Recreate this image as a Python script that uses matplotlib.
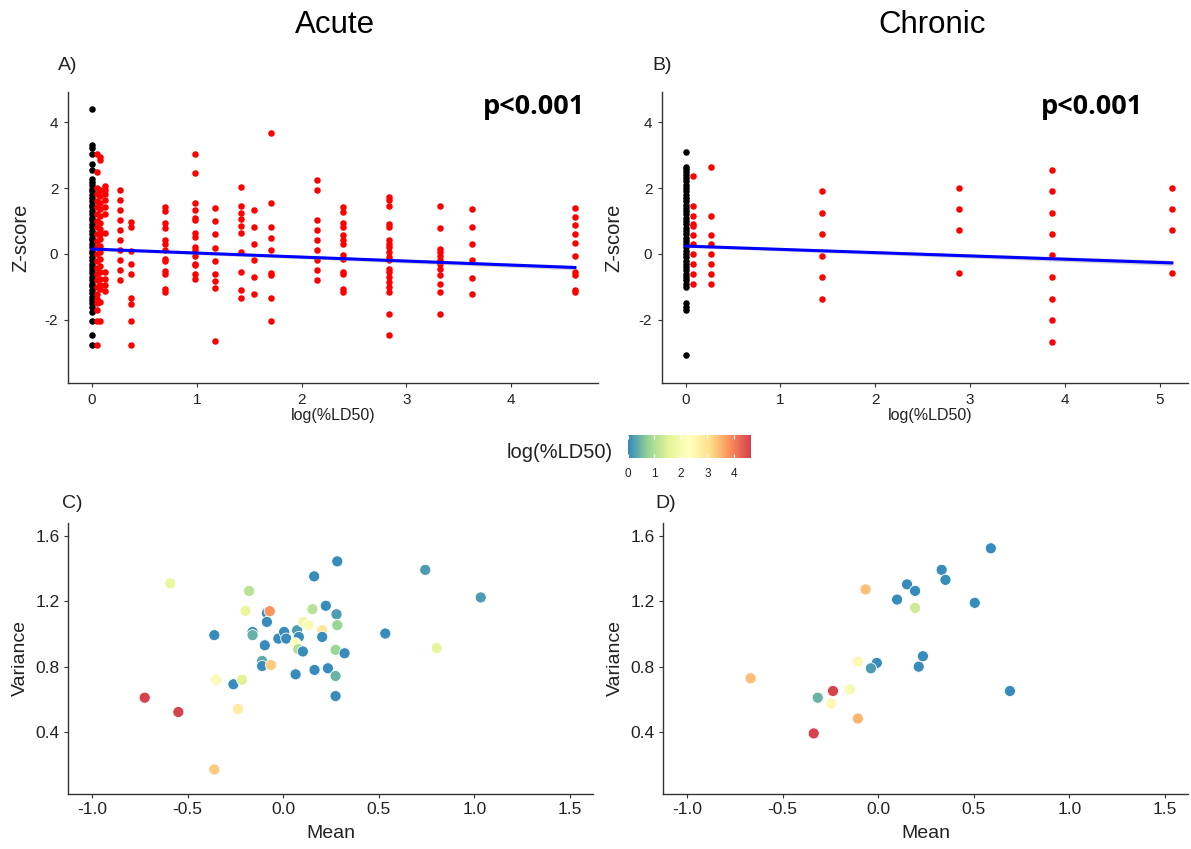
import matplotlib
matplotlib.use("Agg")
import matplotlib.pyplot as plt
from matplotlib.colors import LinearSegmentedColormap, Normalize
import matplotlib.cm as cm
import numpy as np

plt.rcParams["font.family"] = ["Liberation Sans", "DejaVu Sans"]
plt.rcParams["axes.unicode_minus"] = False

# ── Data: top panels (Z-score vs log(%LD50)) ─────────────────────────────────

# Acute: control group (x = 0, black)
acute_ctrl = [4.38, 3.29, 3.22, 3.02, 2.72, 2.54, 2.28, 2.18, 2.08, 1.98, 1.9, 1.78,
              1.7, 1.6, 1.5, 1.42, 1.3, 1.22, 1.1, 1.02, 0.9, 0.82, 0.7, 0.62, 0.5,
              0.42, 0.3, 0.22, 0.1, 0.02, -0.1, -0.18, -0.3, -0.38, -0.5, -0.58,
              -0.7, -0.78, -0.9, -0.98, -1.1, -1.18, -1.3, -1.38, -1.5, -1.6, -1.76,
              -2.04, -2.46, -2.77]

# Acute: dosed groups (red)
acute_dose = [0.045, 0.075, 0.123, 0.27, 0.37, 0.695, 0.985, 1.175, 1.42, 1.55,
              1.71, 2.15, 2.40, 2.83, 3.32, 3.63, 4.61]
acute_z = [
    [3.04, 2.48, 2.0, 1.82, 1.6, 1.41, 1.2, 1.0, 0.82, 0.6, 0.4, 0.21, 0.0, -0.2,
     -0.41, -0.6, -0.8, -1.0, -1.2, -1.35, -1.5, -1.7, -2.03, -2.77],
    [2.95, 2.84, 1.95, 1.75, 1.55, 1.35, 1.15, 0.95, 0.75, 0.62, 0.45, 0.25, 0.05,
     -0.15, -0.35, -0.55, -0.75, -0.95, -1.05, -1.45, -2.03],
    [2.06, 1.93, 1.83, 1.63, 1.42, 1.22, 0.64, -0.55, -0.75, -0.95, -1.13],
    [1.93, 1.63, 1.32, 1.02, 0.72, 0.42, 0.11, -0.19, -0.49, -0.80],
    [0.97, 0.82, 0.08, -0.29, -0.60, -1.32, -1.53, -2.04, -2.77],
    [1.42, 1.30, 0.94, 0.80, 0.43, 0.29, 0.13, -0.14, -0.21, -0.52, -0.62, -1.05, -1.15],
    [3.02, 2.46, 1.55, 1.32, 1.09, 1.04, 0.64, 0.52, 0.21, 0.13, -0.06, -0.29,
     -0.34, -0.60, -0.75],
    [1.40, 1.0, 0.60, 0.19, -0.21, -0.60, -0.82, -1.02, -2.65],
    [2.03, 1.44, 1.24, 1.07, 0.84, 0.65, 0.06, -0.55, -1.10, -1.33],
    [1.34, 0.82, 0.31, -0.19, -0.70, -1.22],
    [3.67, 1.55, 0.82, 0.48, 0.11, -0.58, -0.65, -1.32, -2.04],
    [2.23, 1.93, 1.02, 0.72, 0.41, 0.11, -0.19, -0.49, -0.80],
    [1.42, 1.27, 0.94, 0.82, 0.57, 0.41, 0.29, -0.04, -0.14, -0.55, -0.62, -1.05, -1.15],
    [1.73, 1.63, 1.44, 0.92, 0.82, 0.43, 0.31, 0.21, 0.06, -0.09, -0.19, -0.44,
     -0.55, -0.70, -0.85, -1.0, -1.15, -1.81, -2.46],
    [1.44, 0.80, 0.16, 0.06, -0.07, -0.19, -0.29, -0.44, -0.65, -0.90, -1.15, -1.81],
    [1.35, 0.83, 0.31, -0.19, -0.72, -1.20],
    [1.40, 1.12, 0.87, 0.62, 0.33, -0.06, -0.55, -0.65, -1.08, -1.15],
]
acute_fit_x = [0.0, 4.61]
acute_fit_y = [0.15, -0.41]
acute_fit_se = [0.04, 0.07]

# Chronic: control group (x = 0, black)
chronic_ctrl = [3.1, 2.65, 2.58, 2.5, 2.4, 2.3, 2.2, 2.1, 2.0, 1.9, 1.8, 1.7, 1.6,
                1.5, 1.4, 1.3, 1.2, 1.1, 1.0, 0.9, 0.8, 0.7, 0.6, 0.5, 0.4, 0.3,
                0.2, 0.1, 0.0, -0.1, -0.2, -0.3, -0.4, -0.5, -0.6, -0.7, -0.8,
                -0.9, -1.0, -1.5, -1.6, -1.7, -3.05]

# Chronic: dosed groups (red)
chronic_dose = [0.077, 0.27, 1.44, 2.88, 3.87, 5.13]
chronic_z = [
    [2.35, 1.45, 1.16, 0.9, 0.85, 0.58, 0.29, 0.0, -0.29, -0.60, -0.90],
    [2.64, 1.16, 0.58, 0.29, 0.0, -0.29, -0.60, -0.90],
    [1.90, 1.24, 0.60, -0.06, -0.71, -1.36],
    [2.0, 1.35, 0.72, -0.58],
    [2.56, 1.91, 1.25, 0.60, -0.04, -0.71, -1.36, -2.01, -2.67],
    [2.0, 1.35, 0.72, -0.58],
]
chronic_fit_x = [0.0, 5.13]
chronic_fit_y = [0.24, -0.27]
chronic_fit_se = [0.04, 0.08]

# ── Data: bottom panels (Variance vs Mean, coloured by log(%LD50)) ───────────

acute_mean = [-0.59, -0.178, -0.197, -0.085, -0.07, -0.085, -0.36, -0.16, -0.16,
              -0.096, -0.11, -0.11, -0.064, -0.025, 0.005, 0.016, 0.073, 0.082,
              0.065, 0.079, 0.103, 0.105, 0.133, 0.065, 0.162, 0.153, 0.204, 0.204,
              0.223, 0.283, 0.279, 0.283, 0.274, 0.321, 0.234, 0.164, 0.274, 0.274,
              -0.26, -0.35, -0.215, -0.236, -0.724, -0.548, -0.36, 0.534, 0.743,
              1.033, 0.803]
acute_var = [1.31, 1.264, 1.142, 1.128, 1.14, 1.074, 0.993, 1.013, 0.993, 0.931,
             0.835, 0.804, 0.81, 0.972, 1.013, 0.972, 1.023, 0.982, 0.943, 0.907,
             0.893, 1.074, 1.054, 0.753, 1.353, 1.152, 1.023, 0.982, 1.173, 1.445,
             1.121, 1.054, 0.903, 0.882, 0.79, 0.78, 0.743, 0.62, 0.692, 0.72, 0.72,
             0.54, 0.61, 0.522, 0.17, 1.003, 1.393, 1.224, 0.913]
acute_ld = [1.7, 1.1, 1.7, 0.05, 3.8, 0.05, 0.05, 0.1, 0.4, 0.05, 0.35, 0.05, 3.3,
            0.05, 0.05, 0.05, 0.2, 0.05, 2.2, 1.0, 0.05, 1.9, 2.1, 0.05, 0.05, 1.1,
            2.9, 0.05, 0.05, 0.05, 0.2, 0.8, 0.8, 0.05, 0.05, 0.05, 0.45, 0.05,
            0.05, 2.1, 1.5, 2.8, 4.6, 4.6, 3.3, 0.05, 0.2, 0.2, 1.6]

chronic_mean = [0.589, 0.332, 0.352, 0.151, 0.193, 0.099, 0.505, -0.066, 0.193,
                0.234, 0.212, -0.007, -0.038, -0.106, -0.148, -0.236, -0.316,
                -0.245, -0.106, -0.337, 0.689, -0.667]
chronic_var = [1.525, 1.393, 1.332, 1.304, 1.264, 1.211, 1.191, 1.273, 1.16, 0.864,
               0.80, 0.823, 0.79, 0.831, 0.661, 0.651, 0.61, 0.574, 0.482, 0.391,
               0.651, 0.729]
chronic_ld = [0.05, 0.05, 0.05, 0.05, 0.05, 0.05, 0.05, 3.4, 1.3, 0.05, 0.05, 0.05,
              0.2, 2.5, 2.0, 4.6, 0.45, 2.5, 3.5, 4.6, 0.05, 3.4]

# ── Style ─────────────────────────────────────────────────────────────────────

SPECTRAL7 = ["#3288BD", "#99D594", "#E6F598", "#FFFFBF", "#FEE08B", "#FC8D59", "#D53E4F"]
CMAP = LinearSegmentedColormap.from_list("spectral7_r", SPECTRAL7)
NORM = Normalize(vmin=0, vmax=4.65)
AX_COLOR = "#333333"

W, H = 1191, 849
fig = plt.figure(figsize=(W / 100, H / 100), dpi=100)


def px_axes(left, top, right, bottom):
    return fig.add_axes([left / W, 1 - bottom / H, (right - left) / W, (bottom - top) / H])


def style_axes(ax, tick_size, pad):
    for s in ["top", "right"]:
        ax.spines[s].set_visible(False)
    for s in ["left", "bottom"]:
        ax.spines[s].set_color(AX_COLOR)
        ax.spines[s].set_linewidth(1.0)
    ax.tick_params(colors=AX_COLOR, labelcolor="#222222", labelsize=tick_size,
                   length=3, width=0.8, pad=pad)


def z_panel(ax, ctrl, doses, zs, fit_x, fit_y, fit_se, xlim, xticks, p_x):
    ax.scatter(np.zeros(len(ctrl)), ctrl, s=22, color="black", linewidths=0, zorder=2)
    for d, z in zip(doses, zs):
        ax.scatter(np.full(len(z), d), z, s=22, color="#FF0000", linewidths=0, zorder=3)
    fx = np.array(fit_x)
    fy = np.array(fit_y)
    se = np.array(fit_se)
    ax.fill_between(fx, fy - se, fy + se, color="#999999", alpha=0.4, linewidth=0, zorder=4)
    ax.plot(fx, fy, color="#0000FF", linewidth=2.2, zorder=5)
    ax.set_xlim(*xlim)
    ax.set_ylim(-3.91, 4.91)
    ax.set_xticks(xticks)
    ax.set_yticks([-2, 0, 2, 4])
    style_axes(ax, 11, 4)
    ax.text(p_x, 0.948, "p<0.001", transform=ax.transAxes, ha="right", va="center",
            fontsize=19.5, fontweight="bold", family="Open Sans", color="black")


def mv_panel(ax, mean, var, ld, ylab_x):
    ax.scatter(mean, var, c=ld, cmap=CMAP, norm=NORM, s=64, edgecolors="white",
               linewidths=0.6, zorder=3)
    ax.set_xlim(-1.125, 1.62)
    ax.set_ylim(0.02, 1.68)
    ax.set_xticks([-1.0, -0.5, 0.0, 0.5, 1.0, 1.5])
    ax.set_xticklabels(["-1.0", "-0.5", "0.0", "0.5", "1.0", "1.5"])
    ax.set_yticks([0.4, 0.8, 1.2, 1.6])
    ax.set_yticklabels(["0.4", "0.8", "1.2", "1.6"])
    style_axes(ax, 12.5, 3)
    ax.text(ylab_x, 0.5, "Variance", transform=ax.transAxes, rotation=90,
            ha="center", va="center", fontsize=14, color="#222222")
    ax.text(0.5, -0.145, "Mean", transform=ax.transAxes, ha="center", va="center",
            fontsize=14, color="#222222")


# ── Top row ───────────────────────────────────────────────────────────────────
ax_a = px_axes(68, 92, 598, 383)
z_panel(ax_a, acute_ctrl, acute_dose, acute_z, acute_fit_x, acute_fit_y, acute_fit_se,
        (-0.23, 4.83), [0, 1, 2, 3, 4], 0.975)
ax_a.text(-0.089, 0.5, "Z-score", transform=ax_a.transAxes, rotation=90,
          ha="center", va="center", fontsize=14.5, color="#222222")
ax_a.text(0.5, -0.113, "log(%LD50)", transform=ax_a.transAxes, ha="center",
          va="center", fontsize=11.5, color="#222222")

ax_b = px_axes(662, 92, 1188, 383)
z_panel(ax_b, chronic_ctrl, chronic_dose, chronic_z, chronic_fit_x, chronic_fit_y,
        chronic_fit_se, (-0.25, 5.30), [0, 1, 2, 3, 4, 5], 0.914)
ax_b.text(-0.091, 0.5, "Z-score", transform=ax_b.transAxes, rotation=90,
          ha="center", va="center", fontsize=14.5, color="#222222")
ax_b.text(0.51, -0.113, "log(%LD50)", transform=ax_b.transAxes, ha="center",
          va="center", fontsize=11.5, color="#222222")

# ── Bottom row ────────────────────────────────────────────────────────────────
ax_c = px_axes(68, 523, 593, 794)
mv_panel(ax_c, acute_mean, acute_var, acute_ld, -0.091)

ax_d = px_axes(663, 523, 1188, 794)
mv_panel(ax_d, chronic_mean, chronic_var, chronic_ld, -0.091)

# ── Colour bar ────────────────────────────────────────────────────────────────
cax = px_axes(628, 435, 751, 458)
cb = fig.colorbar(cm.ScalarMappable(norm=NORM, cmap=CMAP), cax=cax, orientation="horizontal")
cb.outline.set_visible(False)
cb.set_ticks([0, 1, 2, 3, 4])
cax.tick_params(direction="in", color="white", length=3, width=0.8, top=True,
                bottom=True, labelsize=8.5, labelcolor="#222222", pad=7)
fig.text(613 / W, 1 - 452 / H, "log(%LD50)", ha="right", va="center", fontsize=14.5,
         color="#222222")

# ── Titles and panel tags ─────────────────────────────────────────────────────
fig.text(335 / W, 1 - 25 / H, "Acute", ha="center", va="center", fontsize=22.5)
fig.text(932 / W, 1 - 25 / H, "Chronic", ha="center", va="center", fontsize=22.5)
for tag, x, y in [("A)", 58, 65), ("B)", 652, 65), ("C)", 62, 503), ("D)", 655, 503)]:
    fig.text(x / W, 1 - y / H, tag, ha="left", va="center", fontsize=14, color="#222222")

fig.savefig("out.png", dpi=100, facecolor="white")
